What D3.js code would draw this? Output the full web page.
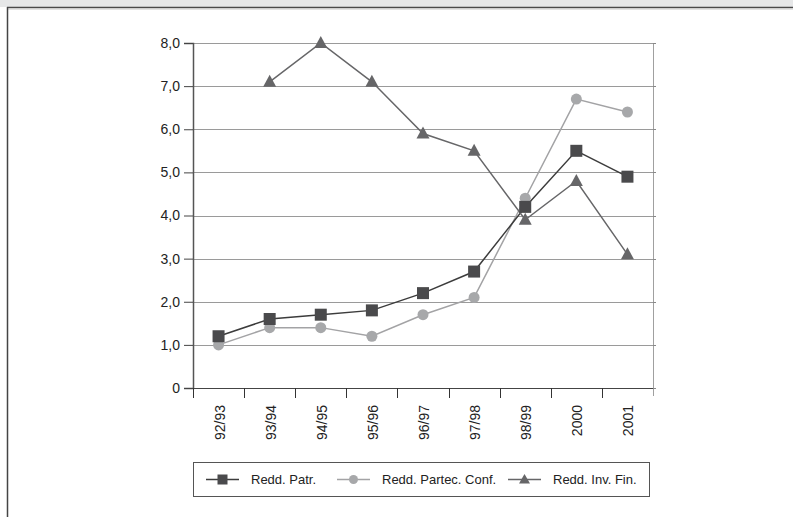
<!DOCTYPE html>
<html>
<head>
<meta charset="utf-8">
<script src="https://cdn.jsdelivr.net/npm/d3@7/dist/d3.min.js"></script>
<style>
  html, body { margin: 0; padding: 0; background: #fff; }
  svg { display: block; }
  text { font-family: "Liberation Sans", Arial, Helvetica, sans-serif; fill: #222; }
</style>
</head>
<body>
<svg id="chart" width="793" height="517"></svg>
<script>
const categories = ["92/93", "93/94", "94/95", "95/96", "96/97", "97/98", "98/99", "2000", "2001"];
const reddPatr = [1.2, 1.6, 1.7, 1.8, 2.2, 2.7, 4.2, 5.5, 4.9];
const reddPartec = [1.0, 1.4, 1.4, 1.2, 1.7, 2.1, 4.4, 6.7, 6.4];
const reddInvFin = [null, 7.1, 8.0, 7.1, 5.9, 5.5, 3.9, 4.8, 3.1];
const yTicks = [0, 1, 2, 3, 4, 5, 6, 7, 8];
const yTickLabels = ["0", "1,0", "2,0", "3,0", "4,0", "5,0", "6,0", "7,0", "8,0"];
const seriesNames = ["Redd. Patr.", "Redd. Partec. Conf.", "Redd. Inv. Fin."];

const series = [
  { name: seriesNames[0], values: reddPatr, line: "#3c3c3c", fill: "#4a4a4c", shape: "square" },
  { name: seriesNames[1], values: reddPartec, line: "#a3a3a5", fill: "#a7a8aa", shape: "circle" },
  { name: seriesNames[2], values: reddInvFin, line: "#666668", fill: "#666668", shape: "triangle" }
];

const svg = d3.select("#chart");

// frame decorations
svg.append("rect").attr("x", 0).attr("y", 0).attr("width", 793).attr("height", 7).attr("fill", "#e6e7e8");
svg.append("line").attr("x1", 7).attr("x2", 793).attr("y1", 7.5).attr("y2", 7.5).attr("stroke", "#4a4a4a").attr("stroke-width", 1.5);
svg.append("line").attr("x1", 8).attr("x2", 793).attr("y1", 9).attr("y2", 9).attr("stroke", "#c8c8c8").attr("stroke-width", 1);
svg.append("line").attr("x1", 7.5).attr("x2", 7.5).attr("y1", 7).attr("y2", 517).attr("stroke", "#444", ).attr("stroke-width", 1.5);

const x0 = 193, x1 = 653, yTop = 43, yBot = 388;
const x = d3.scaleBand().domain(categories).range([x0, x1]);
const y = d3.scaleLinear().domain([0, 8]).range([yBot, yTop]);

// gridlines
svg.append("g").selectAll("line").data(yTicks.filter(d => d > 0)).join("line")
  .attr("x1", x0).attr("x2", x1)
  .attr("y1", d => Math.round(y(d)) + 0.5).attr("y2", d => Math.round(y(d)) + 0.5)
  .attr("stroke", "#9a9a9a").attr("stroke-width", 1);

// right border
svg.append("line").attr("x1", x1 + 0.5).attr("x2", x1 + 0.5).attr("y1", yTop).attr("y2", yBot + 8)
  .attr("stroke", "#a0a0a0").attr("stroke-width", 1);
// right small ticks
svg.append("g").selectAll("line").data(yTicks).join("line")
  .attr("x1", x1).attr("x2", x1 + 3)
  .attr("y1", d => Math.round(y(d)) + 0.5).attr("y2", d => Math.round(y(d)) + 0.5)
  .attr("stroke", "#888");

// y axis
const yAxis = d3.axisLeft(y).tickValues(yTicks).tickFormat((d, i) => yTickLabels[i]).tickSize(9).tickPadding(4);
const gy = svg.append("g").attr("transform", `translate(${x0},0)`).call(yAxis);
gy.select(".domain").attr("stroke", "#555").attr("stroke-width", 1.5);
gy.selectAll(".tick line").attr("stroke", "#444");
gy.selectAll(".tick text").attr("font-size", 14).attr("fill", "#222")
  .attr("font-family", "'Liberation Sans', Arial, sans-serif");

// x axis: ticks at band boundaries
const boundaries = categories.map(c => x(c)).concat([x1]);
const gx = svg.append("g");
gx.append("line").attr("x1", x0).attr("x2", x1).attr("y1", yBot + 0.5).attr("y2", yBot + 0.5)
  .attr("stroke", "#444").attr("stroke-width", 1.2);
gx.selectAll("line.tk").data(boundaries.slice(0, -1)).join("line").attr("class", "tk")
  .attr("x1", d => Math.round(d) + 0.5).attr("x2", d => Math.round(d) + 0.5)
  .attr("y1", yBot).attr("y2", yBot + 10).attr("stroke", "#333");
gx.selectAll("text").data(categories).join("text")
  .attr("transform", d => `translate(${x(d) + x.bandwidth() / 2 + 6},${yBot + 17}) rotate(-90)`)
  .attr("text-anchor", "end").attr("dy", "0")
  .attr("font-size", 14).text(d => d);

// lines
const line = d3.line()
  .defined(d => d.v !== null)
  .x(d => x(d.c) + x.bandwidth() / 2)
  .y(d => y(d.v));

function drawMarker(g, shape, cx, cy, fill) {
  if (shape === "square") {
    g.append("rect").attr("x", cx - 6).attr("y", cy - 6).attr("width", 12).attr("height", 12).attr("fill", fill);
  } else if (shape === "circle") {
    g.append("circle").attr("cx", cx).attr("cy", cy).attr("r", 5.5).attr("fill", fill);
  } else {
    g.append("path").attr("d", `M${cx},${cy - 7}L${cx + 6.5},${cy + 5}L${cx - 6.5},${cy + 5}Z`).attr("fill", fill);
  }
}

const drawOrder = [1, 0, 2];
drawOrder.forEach(si => {
  const s = series[si];
  const pts = categories.map((c, i) => ({ c, v: s.values[i] }));
  svg.append("path").datum(pts).attr("d", line)
    .attr("fill", "none").attr("stroke", s.line).attr("stroke-width", 1.5);
});
drawOrder.forEach(si => {
  const s = series[si];
  const g = svg.append("g");
  categories.forEach((c, i) => {
    const v = s.values[i];
    if (v === null) return;
    drawMarker(g, s.shape, x(c) + x.bandwidth() / 2, y(v), s.fill);
  });
});

// legend
const lg = svg.append("g");
lg.append("rect").attr("x", 193.5).attr("y", 462.5).attr("width", 456).attr("height", 34)
  .attr("fill", "#fff").attr("stroke", "#555").attr("stroke-width", 1);
const legendX = [206, 337, 508];
series.forEach((s, i) => {
  const lx = legendX[i], ly = 479.5;
  lg.append("line").attr("x1", lx).attr("x2", lx + 33).attr("y1", ly).attr("y2", ly)
    .attr("stroke", s.line).attr("stroke-width", 1.5);
  const mg = lg.append("g");
  if (s.shape === "square") {
    mg.append("rect").attr("x", lx + 16.5 - 5).attr("y", ly - 5).attr("width", 10).attr("height", 10).attr("fill", s.fill);
  } else if (s.shape === "circle") {
    mg.append("circle").attr("cx", lx + 16.5).attr("cy", ly).attr("r", 4.5).attr("fill", s.fill);
  } else {
    const cx = lx + 16.5;
    mg.append("path").attr("d", `M${cx},${ly - 5.5}L${cx + 5.5},${ly + 4}L${cx - 5.5},${ly + 4}Z`).attr("fill", s.fill);
  }
  lg.append("text").attr("x", lx + 45).attr("y", ly + 4.5).attr("font-size", 13).text(s.name);
});
</script>
</body>
</html>
